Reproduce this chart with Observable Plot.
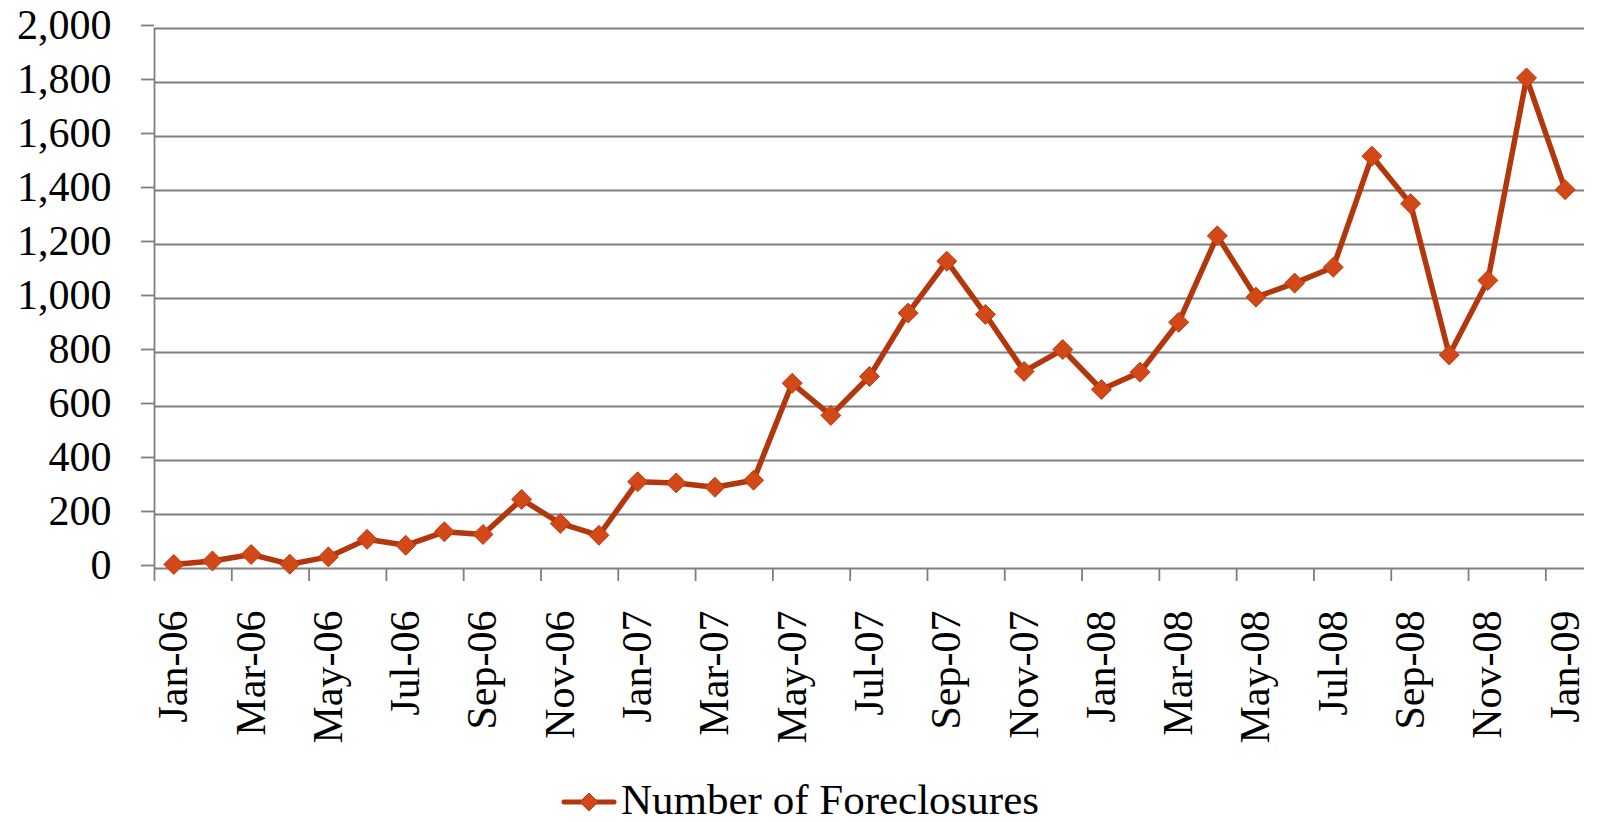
<!DOCTYPE html>
<html>
<head>
<meta charset="utf-8">
<script src="https://cdn.jsdelivr.net/npm/d3@7"></script>
<script src="https://cdn.jsdelivr.net/npm/@observablehq/plot@0.6"></script>
<style>
  html, body { margin: 0; padding: 0; background: white; overflow: hidden; }
  #chart { width: 1600px; height: 822px; position: relative; font-family: "Liberation Serif", serif; }
  #legend { position: absolute; left: 0; top: 778px; width: 1600px; height: 43px; display: flex; justify-content: center; align-items: center; font-size: 43px; color: #000; }
  #legend span { margin-left: 4px; line-height: 1; }
</style>
</head>
<body>
<div id="chart"></div>
<script>
// Data
const months = ["Jan-06","Feb-06","Mar-06","Apr-06","May-06","Jun-06","Jul-06","Aug-06","Sep-06","Oct-06","Nov-06","Dec-06",
                "Jan-07","Feb-07","Mar-07","Apr-07","May-07","Jun-07","Jul-07","Aug-07","Sep-07","Oct-07","Nov-07","Dec-07",
                "Jan-08","Feb-08","Mar-08","Apr-08","May-08","Jun-08","Jul-08","Aug-08","Sep-08","Oct-08","Nov-08","Dec-08",
                "Jan-09"];
const foreclosures = [15, 28, 52, 16, 43, 108, 86, 136, 126, 256, 167, 123,
                      321, 317, 301, 327, 686, 567, 711, 946, 1138, 941, 730, 811,
                      663, 727, 912, 1232, 1005, 1057, 1116, 1527, 1351, 791, 1067, 1817,
                      1403];
const yTicks = [0, 200, 400, 600, 800, 1000, 1200, 1400, 1600, 1800, 2000];
const seriesName = "Number of Foreclosures";

const data = months.map((m, i) => ({month: m, idx: i, value: foreclosures[i]}));
const tickIdx = months.map((m, i) => i).filter(i => i % 2 === 0);
const labelPos = tickIdx.map(i => i + 0.5);

const lineColor = "#B3370C";
const markFill = "#D34818";
const markStroke = "#B8400F";
const gridColor = "#7F7F7F";

const plot = Plot.plot({
  width: 1600,
  height: 776,
  marginLeft: 154,
  marginRight: 16,
  marginTop: 28,
  marginBottom: 208,
  style: {fontFamily: "Liberation Serif, serif", fontSize: "42px", color: "#000", background: "white"},
  x: {type: "linear", domain: [0, months.length], label: null},
  y: {domain: [0, 2000], label: null},
  marks: [
    Plot.gridY(yTicks, {stroke: gridColor, strokeOpacity: 1, strokeWidth: 1.8}),
    Plot.ruleX([0], {y1: 0, y2: 2000, stroke: gridColor, strokeWidth: 1.8}),
    Plot.axisY(yTicks, {tickSize: 13, tickPadding: 30, tickFormat: d3.format(","), stroke: gridColor, strokeWidth: 1.8, fill: "#000", fontSize: 42, dy: -3, label: null}),
    Plot.axisX(tickIdx, {tickSize: 13, tickFormat: () => "", stroke: gridColor, strokeWidth: 1.8, label: null}),
    Plot.axisX(labelPos, {tickSize: 0, tickPadding: 42, tickRotate: -90, tickFormat: d => months[d - 0.5], fill: "#000", fontSize: 42, label: null}),
    Plot.line(data, {x: d => d.idx + 0.5, y: "value", stroke: lineColor, strokeWidth: 5.5, strokeLinejoin: "round", strokeLinecap: "round"}),
    Plot.dot(data, {x: d => d.idx + 0.5, y: "value", symbol: "diamond2", r: 9, fill: markFill, stroke: markStroke, strokeWidth: 1})
  ]
});

const chart = document.getElementById("chart");
chart.appendChild(plot);

const legend = document.createElement("div");
legend.id = "legend";
legend.innerHTML = `<svg width="56" height="24" viewBox="0 0 56 24">
  <line x1="3" y1="14" x2="53" y2="14" stroke="${lineColor}" stroke-width="5" stroke-linecap="round"/>
  <path d="M28,5 L37,14 L28,23 L19,14 Z" fill="${markFill}" stroke="${markStroke}" stroke-width="1"/>
</svg><span></span>`;
legend.querySelector("span").textContent = seriesName;
chart.appendChild(legend);
</script>
</body>
</html>
